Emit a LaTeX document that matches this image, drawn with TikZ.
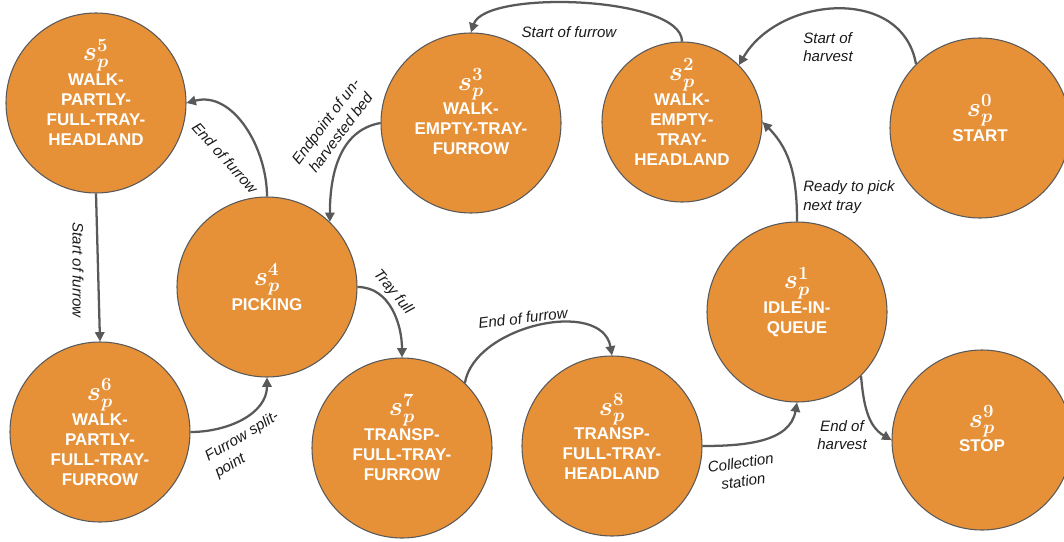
\RequirePackage{fix-cm}
\documentclass[tikz,border=0pt]{standalone}
\usepackage{fontspec}
\usepackage{bm}
\setmainfont{Liberation Sans}
\setsansfont{Liberation Sans}
\usetikzlibrary{arrows.meta}
\definecolor{orng}{HTML}{E69138}
\definecolor{gry}{HTML}{595959}
\newcommand{\stl}[1]{{\fontsize{20}{20}\selectfont$\bm{s_p^{#1}}$}}
\tikzset{
  state/.style={circle, fill=orng, draw=gry, line width=0.8pt, minimum size=135pt, inner sep=0pt},
  small/.style={minimum size=120pt},
  sttext/.style={text=white, align=center, inner sep=0pt, font=\sffamily\bfseries\fontsize{12.75}{15}\selectfont},
  conn/.style={draw=gry, line width=1.7pt, -{Triangle[length=7pt,width=7pt]}},
  lbl/.style={font=\sffamily\itshape\fontsize{11.3}{14}\selectfont, text=black!90, inner sep=1pt}
}
\newcommand{\stnode}[5]{\node[state,#1] (#2) at (#3) {};
  \node[sttext,yshift=#4] (t#2) at (#2.center) {#5};}
\begin{document}
\begin{tikzpicture}[x=0.75pt,y=-0.75pt]
\useasboundingbox (0,0) rectangle (1064,542);
% states
\stnode{}{s5}{96,103}{8pt}{\stl{5}\\[1pt]WALK-\\PARTLY-\\FULL-TRAY-\\HEADLAND}
\stnode{}{s4}{267,287}{0pt}{\stl{4}\\[1pt]PICKING}
\stnode{}{s3}{471,123}{8.5pt}{\stl{3}\\[1pt]WALK-\\EMPTY-TRAY-\\FURROW}
\stnode{small}{s2}{682,122}{7.5pt}{\stl{2}\\[1pt]WALK-\\EMPTY-\\TRAY-\\HEADLAND}
\stnode{}{s0}{980,128}{7.5pt}{\stl{0}\\[1pt]START}
\stnode{}{s6}{100,432}{0pt}{\stl{6}\\[1pt]WALK-\\PARTLY-\\FULL-TRAY-\\FURROW}
\stnode{}{s7}{402,448}{8pt}{\stl{7}\\[1pt]TRANSP-\\FULL-TRAY-\\FURROW}
\stnode{}{s8}{612,446}{7pt}{\stl{8}\\[1pt]TRANSP-\\FULL-TRAY-\\HEADLAND}
\stnode{}{s1}{797,312}{7.5pt}{\stl{1}\\[1pt]IDLE-IN-\\QUEUE}
\stnode{}{s9}{982,440}{8.5pt}{\stl{9}\\[1pt]STOP}
% connectors
\draw[conn] (s0.135) to[out=100,in=60,looseness=1.15] (s2.45);
\draw[conn] (s2.90) to[out=90,in=72,looseness=0.55] (s3.90);
\draw[conn] (s3.180) to[out=190,in=90] (s4.46);
\draw[conn] (s4.90) to[out=90,in=15] (s5.0);
\draw[conn] (s5.south) -- (s6.north);
\draw[conn] (s6.0) to[out=0,in=-90] (s4.270);
\draw[conn] (s4.0) to[out=0,in=90] (s7.90);
\draw[conn] (s7.46) to[out=80,in=100] (s8.90);
\draw[conn] (s8.0) to[out=0,in=-100] (s1.270);
\draw[conn] (s1.90) to[out=90,in=-45] (s2.0);
\draw[conn] (s1.-45) to[out=-85,in=150] (s9.180);
% labels
\node[lbl,align=left] (l1) at (828,47) {Start of\\harvest};
\node[lbl] (l2) at (569,32) {Start of furrow};
\node[lbl,align=center,rotate=53] (l3) at (333,127) {Endpoint of un-\\harvested bed};
\node[lbl,rotate=-48] (l4) at (225,158) {End of furrow};
\node[lbl,rotate=-90] (l5) at (78,270) {Start of furrow};
\node[lbl,align=left,rotate=31] (l6) at (247,445) {Furrow split-\\point};
\node[lbl,rotate=-50] (l7) at (393,292) {Tray full};
\node[lbl,rotate=7] (l8) at (523,318) {End of furrow};
\node[lbl,align=center,rotate=8] (l9) at (742,472) {Collection\\station};
\node[lbl,align=left] (l10) at (849,197) {Ready to pick\\next tray};
\node[lbl,align=center] (l11) at (842,435) {End of\\harvest};
\end{tikzpicture}
\end{document}
